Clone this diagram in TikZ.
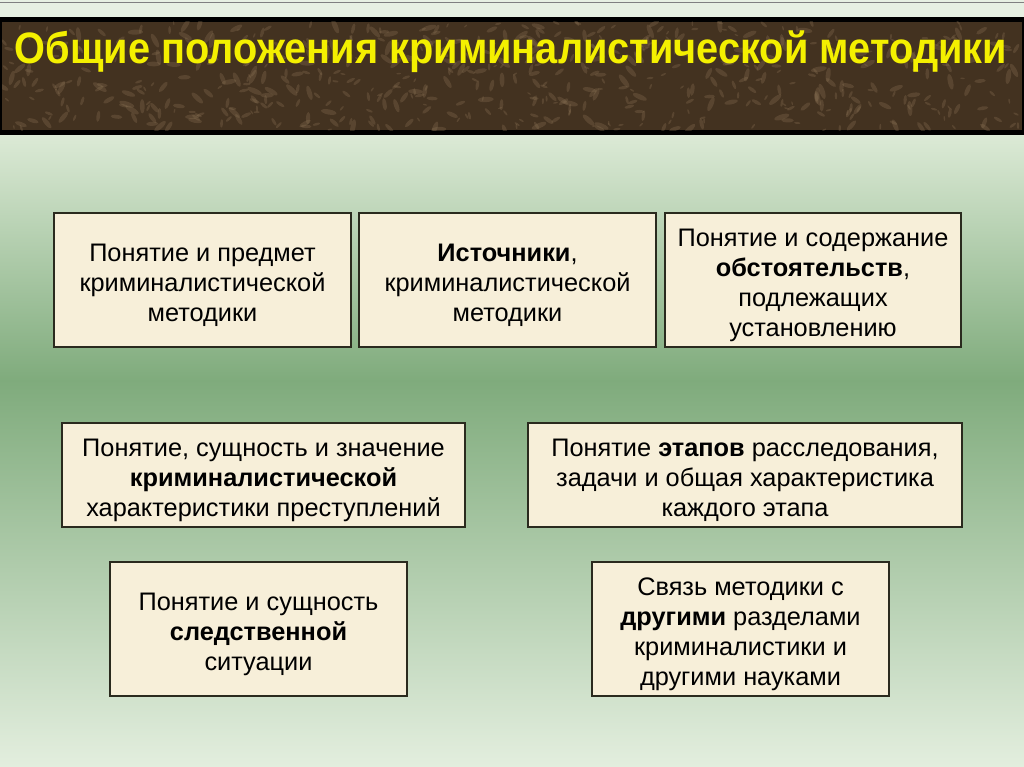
\documentclass[tikz,border=0pt]{standalone}
\usepackage{fontspec}
\setmainfont{Liberation Sans}
\usetikzlibrary{calc}

\definecolor{paleGreen}{HTML}{DCEAD6}
\definecolor{midGreen}{HTML}{7FAB7C}
\definecolor{cream}{HTML}{F7EFD9}
\definecolor{barBrown}{HTML}{433220}
\definecolor{veinBrown}{HTML}{8C7456}
\definecolor{titleYellow}{HTML}{F4F000}
\definecolor{edgeDark}{HTML}{2A2A1E}

\newcommand{\lift}{\rule{0pt}{21.5pt}}
\tikzset{
  topic/.style 2 args={draw=edgeDark, line width=0.9pt, fill=cream,
    minimum width=#1*0.75pt, minimum height=#2*0.75pt, inner sep=0pt,
    align=center, font=\fontsize{19}{22.6}\selectfont},
}

\begin{document}
\begin{tikzpicture}[x=0.75pt,y=-0.75pt]
\useasboundingbox (0,0) rectangle (1024,767);
% background
\fill[paleGreen!70!white] (0,0) rectangle (1024,17);
\draw[gray,thin] (0,2) -- (1024,2);
\shade[top color=paleGreen, bottom color=midGreen] (0,134) rectangle (1024,381);
\shade[top color=midGreen, bottom color=paleGreen!80!white] (0,380) rectangle (1024,767);

% title bar
\fill[black] (0,17) rectangle (1024,135);
\fill[barBrown] (2,22) rectangle (1022,130);
\pgfmathsetseed{7}
\begin{scope}
  \clip (2,22) rectangle (1022,130);
  \foreach \k in {1,...,600} {
    \pgfmathsetmacro{\bx}{1020*rnd}
    \pgfmathsetmacro{\by}{22+108*rnd}
    \pgfmathsetmacro{\br}{1+3*rnd}
    \pgfmathsetmacro{\ba}{180*rnd}
    \fill[veinBrown,opacity=0.3,rotate around={\ba:(\bx,\by)}] (\bx,\by) ellipse ({\br*1.5pt} and {\br*0.5pt});
  }
\end{scope}
\node[text=titleYellow, font=\fontsize{33}{36}\bfseries\selectfont] (title) at (511,52)
  {\resizebox{744pt}{\height}{Общие положения криминалистической методики}};

% topics
\node[topic={297}{134}] (subject) at (202.5,280)
  {\lift Понятие и предмет\\криминалистической\\методики};
\node[topic={297}{134}] (sources) at (507.5,280)
  {\lift\textbf{Источники},\\криминалистической\\методики};
\node[topic={296}{134}] (circumst) at (813,280)
  {\lift Понятие и содержание\\\textbf{обстоятельств},\\подлежащих\\установлению};
\node[topic={403}{104}] (character) at (263.5,475)
  {\lift Понятие, сущность и значение\\\textbf{криминалистической}\\характеристики преступлений};
\node[topic={434}{104}] (stages) at (745,475)
  {\lift Понятие \textbf{этапов} расследования,\\задачи и общая характеристика\\каждого этапа};
\node[topic={297}{134}] (situation) at (258.5,629)
  {\lift Понятие и сущность\\\textbf{следственной}\\ситуации};
\node[topic={297}{134}] (links) at (740.5,629)
  {\lift Связь методики с\\\textbf{другими} разделами\\криминалистики и\\другими науками};
\end{tikzpicture}
\end{document}
